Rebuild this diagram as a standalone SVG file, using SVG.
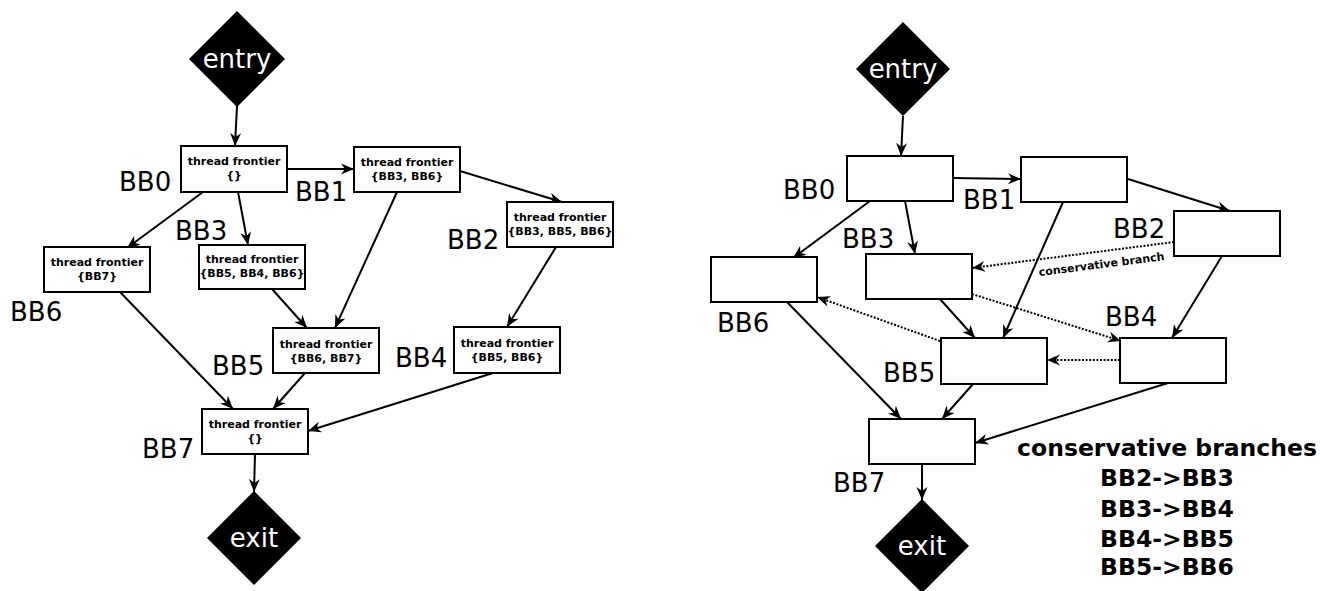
<svg xmlns="http://www.w3.org/2000/svg" width="1320" height="591" viewBox="0 0 1320 591">
  <defs>
    <marker id="arrow" markerUnits="userSpaceOnUse" viewBox="-14 -6 15 12" refX="0" refY="0" markerWidth="15" markerHeight="12" orient="auto">
      <path d="M0,0 L-13,-5.5 L-9,0 L-13,5.5 Z" fill="#000"/>
    </marker>
    <style>
      .box { fill: #fff; stroke: #000; stroke-width: 2; }
      .term { fill: #000; }
      .term-text { font-family: "DejaVu Sans", sans-serif; font-size: 26px; fill: #fff; text-anchor: middle; }
      .bb { font-family: "DejaVu Sans", sans-serif; font-size: 26px; fill: #000; }
      .tf { font-family: "DejaVu Sans", sans-serif; font-weight: bold; font-size: 11px; fill: #000; text-anchor: middle; }
      .edge { stroke: #000; stroke-width: 2; fill: none; marker-end: url(#arrow); }
      .cons { stroke: #000; stroke-width: 2; fill: none; stroke-dasharray: 2 1.6; marker-end: url(#arrow); }
      .cons-label { font-family: "DejaVu Sans", sans-serif; font-weight: bold; font-size: 11px; fill: #000; text-anchor: middle; }
      .legend { font-family: "DejaVu Sans", sans-serif; font-weight: bold; font-size: 23.5px; fill: #000; text-anchor: middle; }
    </style>
  </defs>

  <!-- Left CFG: thread frontiers per block -->
  <g id="left-connectors">
    <line class="edge" x1="237" y1="106" x2="235" y2="146"/>
    <line class="edge" x1="287" y1="169" x2="354" y2="169"/>
    <line class="edge" x1="203" y1="192" x2="127" y2="248"/>
    <line class="edge" x1="238" y1="192" x2="248" y2="245"/>
    <line class="edge" x1="460" y1="171" x2="562" y2="202"/>
    <line class="edge" x1="397" y1="192" x2="335" y2="328"/>
    <line class="edge" x1="272" y1="289" x2="307" y2="328"/>
    <line class="edge" x1="556" y1="247" x2="507" y2="327"/>
    <line class="edge" x1="120" y1="292" x2="233" y2="409"/>
    <line class="edge" x1="305" y1="373" x2="273" y2="409"/>
    <line class="edge" x1="493" y1="373" x2="308" y2="431"/>
    <line class="edge" x1="255" y1="454" x2="254" y2="492"/>
  </g>

  <g id="l-entry">
    <polygon class="term" points="237,11 285,59 237,107 189,59"/>
    <text class="term-text" x="237" y="68">entry</text>
  </g>
  <g id="l-bb0">
    <rect class="box" x="181" y="146" width="106" height="46"/>
    <text class="tf" x="234" y="165">thread frontier</text>
    <text class="tf" x="234" y="179">{}</text>
    <text class="bb" x="119" y="191">BB0</text>
  </g>
  <g id="l-bb1">
    <rect class="box" x="354" y="147" width="106" height="45"/>
    <text class="tf" x="407" y="166">thread frontier</text>
    <text class="tf" x="407" y="180">{BB3, BB6}</text>
    <text class="bb" x="295" y="201">BB1</text>
  </g>
  <g id="l-bb2">
    <rect class="box" x="507" y="202" width="106" height="45"/>
    <text class="tf" x="560" y="221">thread frontier</text>
    <text class="tf" x="560" y="235">{BB3, BB5, BB6}</text>
    <text class="bb" x="447" y="249">BB2</text>
  </g>
  <g id="l-bb3">
    <rect class="box" x="199" y="245" width="106" height="44"/>
    <text class="tf" x="252" y="263">thread frontier</text>
    <text class="tf" x="252" y="277">{BB5, BB4, BB6}</text>
    <text class="bb" x="175" y="240">BB3</text>
  </g>
  <g id="l-bb4">
    <rect class="box" x="454" y="327" width="106" height="46"/>
    <text class="tf" x="507" y="347">thread frontier</text>
    <text class="tf" x="507" y="361">{BB5, BB6}</text>
    <text class="bb" x="395" y="367">BB4</text>
  </g>
  <g id="l-bb5">
    <rect class="box" x="273" y="328" width="106" height="45"/>
    <text class="tf" x="326" y="348">thread frontier</text>
    <text class="tf" x="326" y="362">{BB6, BB7}</text>
    <text class="bb" x="212" y="375">BB5</text>
  </g>
  <g id="l-bb6">
    <rect class="box" x="44" y="247" width="106" height="45"/>
    <text class="tf" x="97" y="266">thread frontier</text>
    <text class="tf" x="97" y="280">{BB7}</text>
    <text class="bb" x="10" y="321">BB6</text>
  </g>
  <g id="l-bb7">
    <rect class="box" x="202" y="409" width="106" height="45"/>
    <text class="tf" x="255" y="428">thread frontier</text>
    <text class="tf" x="255" y="442">{}</text>
    <text class="bb" x="142" y="458">BB7</text>
  </g>
  <g id="l-exit">
    <polygon class="term" points="254,491 301,538 254,585 207,538"/>
    <text class="term-text" x="254" y="547">exit</text>
  </g>

  <!-- Right CFG: conservative branches -->
  <g id="right-connectors">
    <line class="edge" x1="903" y1="116" x2="901" y2="156"/>
    <line class="edge" x1="953" y1="178" x2="1021" y2="179"/>
    <line class="edge" x1="870" y1="201" x2="793" y2="258"/>
    <line class="edge" x1="905" y1="201" x2="915" y2="254"/>
    <line class="edge" x1="1128" y1="179" x2="1230" y2="211"/>
    <line class="edge" x1="1063" y1="202" x2="1003" y2="338"/>
    <line class="edge" x1="1222" y1="256" x2="1172" y2="338"/>
    <line class="edge" x1="940" y1="299" x2="975" y2="338"/>
    <line class="edge" x1="787" y1="302" x2="901" y2="419"/>
    <line class="edge" x1="973" y1="384" x2="942" y2="419"/>
    <line class="edge" x1="1168" y1="383" x2="975" y2="443"/>
    <line class="edge" x1="922" y1="464" x2="922" y2="500"/>
    <line class="cons" x1="1174" y1="242" x2="972" y2="268"/>
    <line class="cons" x1="972" y1="294" x2="1121" y2="341"/>
    <line class="cons" x1="1120" y1="360" x2="1047" y2="360"/>
    <line class="cons" x1="940" y1="341" x2="817" y2="297"/>
    <text class="cons-label" x="1102" y="268" transform="rotate(-7.3 1102 268)">conservative branch</text>
  </g>

  <g id="r-entry">
    <polygon class="term" points="903,22 950,69 903,116 856,69"/>
    <text class="term-text" x="903" y="78">entry</text>
  </g>
  <g id="r-bb0">
    <rect class="box" x="847" y="156" width="106" height="45"/>
    <text class="bb" x="783" y="199">BB0</text>
  </g>
  <g id="r-bb1">
    <rect class="box" x="1021" y="157" width="106" height="45"/>
    <text class="bb" x="963" y="209">BB1</text>
  </g>
  <g id="r-bb2">
    <rect class="box" x="1174" y="211" width="106" height="45"/>
    <text class="bb" x="1113" y="238">BB2</text>
  </g>
  <g id="r-bb3">
    <rect class="box" x="866" y="254" width="106" height="45"/>
    <text class="bb" x="842" y="248">BB3</text>
  </g>
  <g id="r-bb4">
    <rect class="box" x="1120" y="338" width="106" height="45"/>
    <text class="bb" x="1105" y="326">BB4</text>
  </g>
  <g id="r-bb5">
    <rect class="box" x="941" y="338" width="106" height="46"/>
    <text class="bb" x="883" y="382">BB5</text>
  </g>
  <g id="r-bb6">
    <rect class="box" x="711" y="257" width="106" height="45"/>
    <text class="bb" x="717" y="332">BB6</text>
  </g>
  <g id="r-bb7">
    <rect class="box" x="869" y="419" width="106" height="45"/>
    <text class="bb" x="833" y="492">BB7</text>
  </g>
  <g id="r-exit">
    <polygon class="term" points="922,499 969,546 922,593 875,546"/>
    <text class="term-text" x="922" y="555">exit</text>
  </g>

  <g id="legend">
    <text class="legend" x="1167" y="456">conservative branches</text>
    <text class="legend" x="1167" y="486">BB2-&gt;BB3</text>
    <text class="legend" x="1167" y="517">BB3-&gt;BB4</text>
    <text class="legend" x="1167" y="547">BB4-&gt;BB5</text>
    <text class="legend" x="1167" y="575">BB5-&gt;BB6</text>
  </g>
</svg>
